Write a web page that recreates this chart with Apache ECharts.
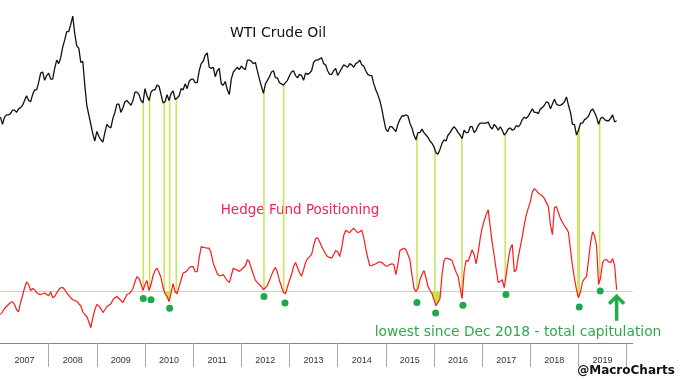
<!DOCTYPE html>
<html><head><meta charset="utf-8">
<script src="https://cdn.jsdelivr.net/npm/echarts@6/dist/echarts.min.js"></script>
<style>html,body{margin:0;padding:0;background:#fff}#c{width:680px;height:382px}</style>
</head><body><div id="c"></div>
<script>
// ---- data (semi-monthly samples starting Jan 2007) ----
const startYear = 2007;
const stepsPerYear = 24;
const yearLabels = ['2007','2008','2009','2010','2011','2012','2013','2014','2015','2016','2017','2018','2019'];
const yearBoundaries = [2008,2009,2010,2011,2012,2013,2014,2015,2016,2017,2018,2019,2020];

// WTI crude oil, USD/bbl
const oilPrice = [
  58,52,58,60,60,61,64,64,62,65,66,68,72,76,72,71,77,81,81,87,95,96,89,93,        // 2007
  95,90,90,99,106,103,108,117,123,130,130,136,143,128,118,116,104,105,85,68,60,52,44,38, // 2008
  46,42,39,37,45,52,50,49,57,62,69,69,62,66,71,72,70,68,72,79,79,77,72,70,        // 2009
  82,76,72,79,81,81,85,84,77,70,71,77,72,78,80,73,74,76,82,81,86,82,88,90,        // 2010
  90,87,87,97,103,105,110,112,100,99,100,92,97,99,86,85,88,81,77,90,96,98,100,98,  // 2011
  101,99,98,106,106,105,103,104,97,90,84,78,86,89,92,96,97,91,91,87,86,85,87,89,   // 2012
  93,96,97,93,91,94,93,89,95,94,95,97,104,106,106,107,108,103,102,97,94,94,97,99,  // 2013
  93,96,99,102,101,100,103,102,100,103,104,106,102,101,97,94,93,93,86,81,77,72,65,56, // 2014
  48,46,50,50,48,46,52,56,59,59,60,59,53,49,43,39,45,45,48,45,43,41,38,36,        // 2015
  33,28,27,31,36,39,38,43,45,48,50,48,45,43,40,47,45,45,50,50,45,47,51,53,        // 2016
  53,53,53,54,50,48,52,50,47,50,47,43,45,48,49,47,48,51,50,52,56,58,57,59,        // 2017
  62,65,62,62,61,65,66,68,71,70,65,69,73,69,68,68,69,71,75,68,62,52,52,43,        // 2018
  47,53,53,56,57,59,63,65,62,58,52,57,58,56,55,55,57,60,54,55                     // 2019
];

// Hedge fund net positioning (index, k contracts)
const hfPositioning = [
  43,50,58,63,68,73,75,68,55,50,73,90,110,125,118,103,108,105,98,94,93,95,97,93,
  90,100,85,88,97,105,110,111,105,97,91,85,80,78,76,70,65,50,43,38,25,10,35,55,
  68,65,58,48,55,63,66,70,79,85,88,83,78,73,83,93,95,100,108,125,138,133,120,103,
  118,128,103,118,140,153,159,148,135,110,95,88,75,98,120,100,95,113,130,147,149,153,160,163,
  163,150,150,185,213,211,210,209,209,195,172,158,145,140,140,143,135,128,123,140,159,156,154,151,
  155,160,165,180,175,158,143,129,123,118,113,105,110,116,128,141,153,161,148,128,113,98,95,113,
  128,143,163,173,160,148,139,155,173,183,188,193,215,233,235,225,213,204,194,188,186,184,193,203,
  200,188,210,240,254,250,248,254,259,253,248,250,254,235,208,185,165,165,168,170,173,175,173,169,
  164,165,168,170,168,143,168,203,206,209,205,193,180,143,109,100,108,130,143,153,135,113,103,95,
  80,65,73,83,143,178,184,183,181,178,163,149,139,110,83,150,179,176,190,205,193,170,198,233,
  260,278,293,305,263,223,190,155,123,126,130,110,143,180,208,218,150,155,188,213,238,268,293,310,
  325,350,358,353,347,343,340,333,323,313,268,243,310,313,298,283,274,265,258,248,205,165,133,105,
  85,100,125,133,138,180,223,250,240,215,118,135,173,180,180,175,173,183,165,105
];

const refLevel = 100; // horizontal threshold line
const signalDates = [2009.964,2010.097,2010.400,2010.512,2010.649,2012.470,2012.879,2015.646,2016.020,2016.580,2017.479,2018.988,2019.015,2019.439];
const dotDates  = [2009.964,2010.124,2010.512,2012.470,2012.906,2015.646,2016.034,2016.600,2017.494,2019.015,2019.451];
const dotValues = [83,80,59,88,72,73,47,66,93,62,102];
const fillWindows = [[2010.39,2010.55],[2015.93,2016.15]];

// ---- helpers ----
const dates = oilPrice.map((_, i) => startYear + i / stepsPerYear);
function valueAt(arr, t) {
  const f = (t - startYear) * stepsPerYear;
  const i = Math.max(0, Math.min(arr.length - 2, Math.floor(f)));
  const r = f - i;
  return arr[i] + (arr[i + 1] - arr[i]) * r;
}
const OIL_MIN = -131.8, OIL_MAX = 156.5, HF_MIN = -28.25, HF_MAX = 830;
const hfToOil = v => OIL_MIN + (v - HF_MIN) / (HF_MAX - HF_MIN) * (OIL_MAX - OIL_MIN);

const chart = echarts.init(document.getElementById('c'), null, {renderer: 'canvas'});
chart.setOption({
  animation: false,
  backgroundColor: '#fff',
  grid: {left: 0.5, right: 47.3, top: 0, height: 343, containLabel: false},
  xAxis: {
    type: 'value', min: 2007, max: 2020.125, interval: 1,
    axisLine: {show: true, onZero: false, lineStyle: {color: '#858585', width: 1}},
    axisTick: {show: true, length: 24, customValues: yearBoundaries, lineStyle: {color: '#a8a8a8', width: 1}},
    axisLabel: {
      formatter: v => yearLabels[Math.round(v) - startYear] || '',
      padding: [0, 0, 0, 48], margin: 13,
      color: '#333', fontFamily: 'Liberation Sans', fontSize: 9
    },
    splitLine: {show: false}
  },
  yAxis: [
    {type: 'value', min: OIL_MIN, max: OIL_MAX, show: false, splitLine: {show: false}},
    {type: 'value', min: HF_MIN, max: HF_MAX, show: false, splitLine: {show: false}}
  ],
  series: [
    {
      type: 'custom', name: 'fill', yAxisIndex: 0, z: 1,
      data: fillWindows.map((w, k) => [w[0], k]),
      encode: {x: 0},
      renderItem: (params, api) => {
        const w = fillWindows[params.dataIndex];
        const pts = [api.coord([w[0], hfToOil(refLevel)])];
        pts.push(api.coord([w[0], hfToOil(Math.min(refLevel, valueAt(hfPositioning, w[0])))]));
        dates.forEach((d, i) => {
          if (d > w[0] && d < w[1]) pts.push(api.coord([d, hfToOil(Math.min(refLevel, hfPositioning[i]))]));
        });
        pts.push(api.coord([w[1], hfToOil(Math.min(refLevel, valueAt(hfPositioning, w[1])))]));
        pts.push(api.coord([w[1], hfToOil(refLevel)]));
        return {type: 'polygon', shape: {points: pts}, style: {fill: '#c4e03c'}};
      }
    },
    {
      type: 'custom', name: 'signals', yAxisIndex: 0, z: 2,
      data: signalDates.map(d => [d, valueAt(oilPrice, d), valueAt(hfPositioning, d)]),
      encode: {x: 0, y: 1},
      renderItem: (params, api) => {
        const d = api.value(0);
        const p1 = api.coord([d, api.value(1)]);
        const p2 = api.coord([d, hfToOil(api.value(2))]);
        return {type: 'line', shape: {x1: p1[0], y1: p1[1], x2: p2[0], y2: p2[1]},
                style: {stroke: '#c8e65a', lineWidth: 1.6}};
      }
    },
    {
      type: 'line', name: 'WTI Crude Oil', yAxisIndex: 0, z: 3,
      data: dates.map((d, i) => [d, oilPrice[i]]),
      showSymbol: false, symbol: 'none',
      lineStyle: {color: '#111', width: 1.3}
    },
    {
      type: 'line', name: 'Hedge Fund Positioning', yAxisIndex: 1, z: 3,
      data: dates.slice(0, hfPositioning.length).map((d, i) => [d, hfPositioning[i]]),
      showSymbol: false, symbol: 'none',
      lineStyle: {color: '#ff1a1a', width: 1.2},
      markLine: {
        silent: true, symbol: ['none', 'none'], label: {show: false},
        lineStyle: {color: '#c9c9ee', width: 1, type: 'solid'},
        data: [{yAxis: refLevel}], z: 0
      }
    },
    {
      type: 'scatter', name: 'lows', yAxisIndex: 1, z: 4,
      data: dotDates.map((d, i) => [d, dotValues[i]]),
      symbol: 'circle', symbolSize: 7,
      itemStyle: {color: '#1fa84a', opacity: 1}
    }
  ]
});

const lastDate = dates[hfPositioning.length - 1];
const ax = chart.convertToPixel({xAxisIndex: 0}, lastDate);
const refY = chart.convertToPixel({yAxisIndex: 1}, refLevel);
const tip = refY + 4;
const green = '#22ad4a';
chart.setOption({
  graphic: [
    {type: 'text', id: 't1', x: 278, y: 33, style: {text: 'WTI Crude Oil', font: '14px "DejaVu Sans"', fill: '#111', align: 'center', verticalAlign: 'middle'}},
    {type: 'text', id: 't2', x: 300, y: 210, style: {text: 'Hedge Fund Positioning', font: '13.5px "DejaVu Sans"', fill: '#f0245a', align: 'center', verticalAlign: 'middle'}},
    {type: 'text', id: 't3', x: 518, y: 332, style: {text: 'lowest since Dec 2018 - total capitulation', font: '13.8px "DejaVu Sans"', fill: '#2eaa4a', align: 'center', verticalAlign: 'middle'}},
    {type: 'text', id: 't4', x: 626, y: 371, style: {text: '@MacroCharts', font: 'bold 12px "DejaVu Sans"', fill: '#111', align: 'center', verticalAlign: 'middle'}},
    {type: 'polyline', id: 'a1', shape: {points: [[ax, refY + 29], [ax, tip + 2]]}, style: {stroke: green, lineWidth: 3.5, fill: null}},
    {type: 'polyline', id: 'a2', shape: {points: [[ax - 7.5, tip + 8], [ax, tip + 0.5], [ax + 7.5, tip + 8]]}, style: {stroke: green, lineWidth: 3.5, fill: null, lineJoin: 'miter'}}
  ]
});
</script>
</body></html>
